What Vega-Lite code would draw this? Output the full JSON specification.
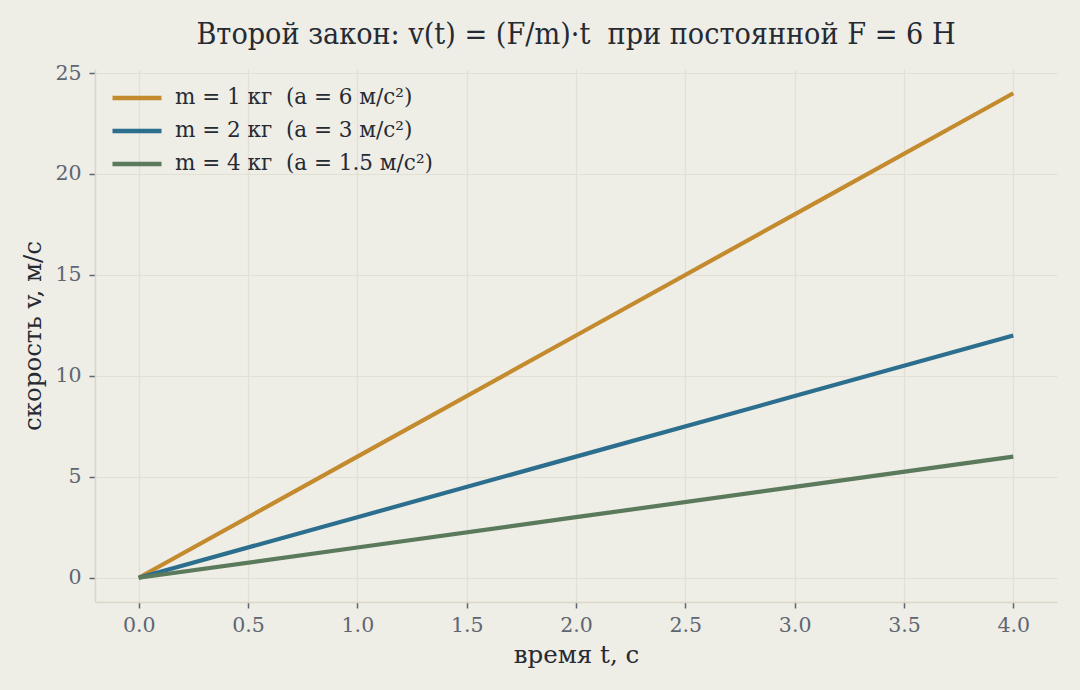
{
  "$schema": "https://vega.github.io/schema/vega-lite/v6.json",
  "autosize": {"type": "none"},
  "width": 962,
  "height": 533,
  "padding": {"left": 95, "top": 69, "right": 23, "bottom": 88},
  "background": "#EEEDE6",
  "config": {
    "view": {"stroke": null, "fill": "#EEEDE6"},
    "font": "DejaVu Serif",
    "axis": {
      "domainColor": "#DCD6C8",
      "domainWidth": 1.5,
      "gridColor": "#E2DFD3",
      "gridWidth": 1.2,
      "tickColor": "#5E6672",
      "tickSize": 6,
      "tickWidth": 1.5,
      "labelColor": "#5E6672",
      "labelFont": "DejaVu Serif",
      "labelFontSize": 20.5,
      "labelPadding": 7,
      "titleFont": "DejaVu Serif",
      "titleFontSize": 24.5,
      "titleFontWeight": "normal",
      "titleColor": "#252A33"
    }
  },
  "title": {
    "text": "Второй закон: v(t) = (F/m)·t \u00a0при постоянной F = 6 Н",
    "font": "DejaVu Serif Condensed",
    "fontSize": 30.2,
    "fontWeight": "normal",
    "color": "#252A33",
    "anchor": "middle",
    "frame": "group",
    "offset": 13
  },
  "data": {
    "values": [
      {"t": 0, "v": 0, "s": "m = 1 кг \u00a0(a = 6 м/с²)"},
      {"t": 1, "v": 6, "s": "m = 1 кг \u00a0(a = 6 м/с²)"},
      {"t": 2, "v": 12, "s": "m = 1 кг \u00a0(a = 6 м/с²)"},
      {"t": 3, "v": 18, "s": "m = 1 кг \u00a0(a = 6 м/с²)"},
      {"t": 4, "v": 24, "s": "m = 1 кг \u00a0(a = 6 м/с²)"},
      {"t": 0, "v": 0, "s": "m = 2 кг \u00a0(a = 3 м/с²)"},
      {"t": 1, "v": 3, "s": "m = 2 кг \u00a0(a = 3 м/с²)"},
      {"t": 2, "v": 6, "s": "m = 2 кг \u00a0(a = 3 м/с²)"},
      {"t": 3, "v": 9, "s": "m = 2 кг \u00a0(a = 3 м/с²)"},
      {"t": 4, "v": 12, "s": "m = 2 кг \u00a0(a = 3 м/с²)"},
      {"t": 0, "v": 0, "s": "m = 4 кг \u00a0(a = 1.5 м/с²)"},
      {"t": 1, "v": 1.5, "s": "m = 4 кг \u00a0(a = 1.5 м/с²)"},
      {"t": 2, "v": 3, "s": "m = 4 кг \u00a0(a = 1.5 м/с²)"},
      {"t": 3, "v": 4.5, "s": "m = 4 кг \u00a0(a = 1.5 м/с²)"},
      {"t": 4, "v": 6, "s": "m = 4 кг \u00a0(a = 1.5 м/с²)"}
    ]
  },
  "mark": {"type": "line", "strokeWidth": 4.2, "strokeCap": "butt"},
  "encoding": {
    "x": {
      "field": "t",
      "type": "quantitative",
      "title": "время t, с",
      "scale": {"domain": [-0.2, 4.2], "nice": false, "zero": false},
      "axis": {"values": [0, 0.5, 1, 1.5, 2, 2.5, 3, 3.5, 4], "format": ".1f", "titlePadding": 8}
    },
    "y": {
      "field": "v",
      "type": "quantitative",
      "title": "скорость v, м/с",
      "scale": {"domain": [-1.2, 25.2], "nice": false, "zero": false},
      "axis": {"values": [0, 5, 10, 15, 20, 25], "titlePadding": 9, "labelPadding": 8}
    },
    "color": {
      "field": "s",
      "type": "nominal",
      "sort": null,
      "scale": {
        "domain": ["m = 1 кг \u00a0(a = 6 м/с²)", "m = 2 кг \u00a0(a = 3 м/с²)", "m = 4 кг \u00a0(a = 1.5 м/с²)"],
        "range": ["#C48A2E", "#2C6E8D", "#5B7A5B"]
      },
      "legend": {
        "title": null,
        "orient": "none",
        "legendX": 15,
        "legendY": 13.5,
        "padding": 0,
        "symbolType": "stroke",
        "symbolStrokeWidth": 4.5,
        "symbolSize": 2400,
        "clipHeight": 31,
        "rowPadding": 2,
        "labelOffset": 11,
        "labelFont": "DejaVu Serif",
        "labelFontSize": 21.5,
        "labelColor": "#252A33",
        "labelLimit": 500
      }
    }
  }
}
